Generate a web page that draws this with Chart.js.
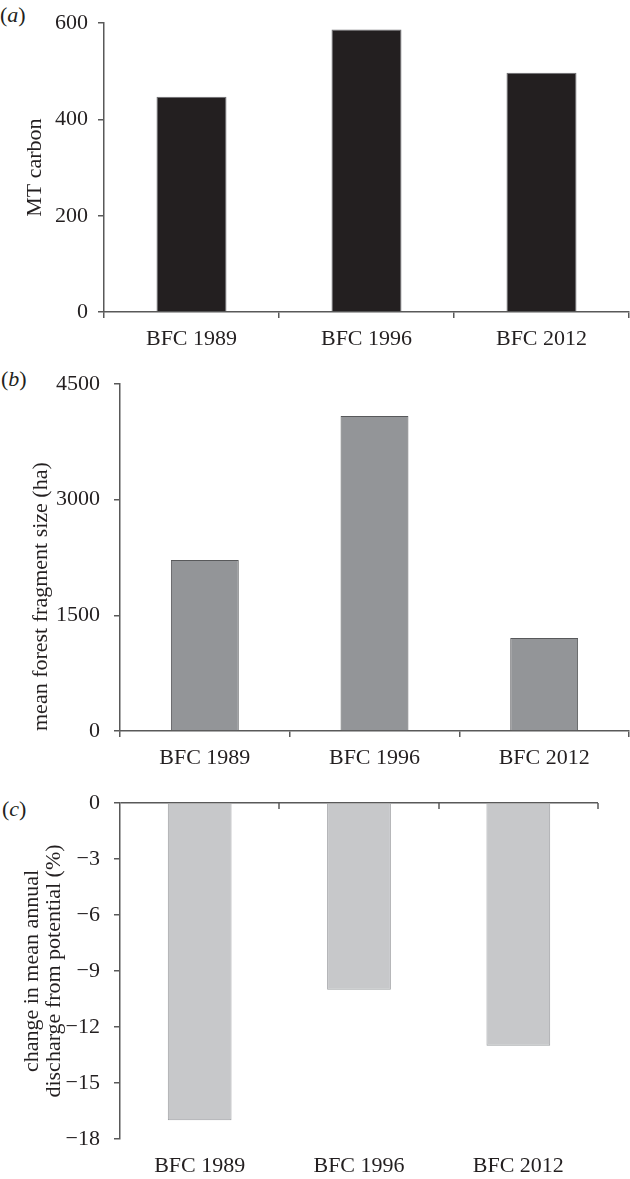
<!DOCTYPE html>
<html>
<head>
<meta charset="utf-8">
<script src="https://cdn.jsdelivr.net/npm/chart.js@4.4.1/dist/chart.umd.min.js"></script>
<style>
    body { margin: 0; background: #fff; width: 630px; height: 1179px; position: relative; font-family: 'Liberation Serif', serif; color: #231f20; }
    canvas { position: absolute; left: 0; }
    .tag { position: absolute; font-size: 22px; line-height: 22px; }
</style>
</head>
<body>
<span class="tag" style="left:0px;top:4px">(<i>a</i>)</span>
<span class="tag" style="left:1px;top:368px">(<i>b</i>)</span>
<span class="tag" style="left:2px;top:798px">(<i>c</i>)</span>
<canvas id="carbon_chartCanvas" width="630" height="352" style="top:0px"></canvas>
<canvas id="fragment_chartCanvas" width="630" height="419" style="top:352px"></canvas>
<canvas id="discharge_chartCanvas" width="630" height="408" style="top:771px"></canvas>
<script>
// categories
var periods = ['BFC 1989', 'BFC 1996', 'BFC 2012'];

// (a) carbon stock, MT carbon
var carbonValues = [447, 587, 497];
// (b) mean forest fragment size, ha
var fragmentValues = [2216, 4085, 1207];
// (c) change in mean annual discharge from potential, %
var dischargeValues = [-17, -10, -13];

var axisColor = '#595959';
var textColor = '#231f20';
var serif = 'Liberation Serif';

/* common options for the three bar panels */
function panelOptions(cfg) {
    return {
        responsive: false,
        animation: false,
        layout: { padding: { top: cfg.top, right: cfg.right, left: 0, bottom: 0 } },
        plugins: { legend: { display: false }, tooltip: { enabled: false } },
        scales: {
            x: {
                offset: true,
                grid: {
                    display: cfg.xTicks,
                    drawOnChartArea: false,
                    drawTicks: cfg.xTicks,
                    tickLength: 6,
                    color: axisColor,
                    lineWidth: 1.5
                },
                border: { display: cfg.xTicks, color: axisColor, width: 1.5 },
                ticks: {
                    color: textColor,
                    font: { family: serif, size: 22 },
                    padding: cfg.xPad,
                    maxRotation: 0,
                    autoSkip: false
                },
                afterFit: function(scale) { scale.height = 40; }
            },
            y: {
                min: cfg.min,
                max: cfg.max,
                grid: {
                    drawOnChartArea: cfg.zeroLine,
                    drawTicks: true,
                    tickLength: 6,
                    color: function(c) {
                        return (cfg.zeroLine && c.tick && c.tick.value === 0) ? axisColor : 'rgba(0,0,0,0)';
                    },
                    tickColor: axisColor,
                    lineWidth: 1.5
                },
                border: { display: true, color: axisColor, width: 1.5 },
                ticks: {
                    stepSize: cfg.step,
                    color: textColor,
                    font: { family: serif, size: 22 },
                    padding: cfg.yPad,
                    callback: function(v) { return String(v).replace('-', '\u2212'); }
                },
                title: {
                    display: true,
                    text: cfg.title,
                    align: cfg.titleAlign,
                    color: textColor,
                    font: { family: serif, size: 22, lineHeight: cfg.titleLine },
                    padding: { top: cfg.titlePad, bottom: 0 }
                },
                afterFit: function(scale) { scale.width = cfg.left; }
            }
        }
    };
}

/* little tick marks hanging down from the zero line in panel (c) */
var zeroLineTicks = {
    id: 'zeroLineTicks',
    afterDraw: function(chart) {
        var xs = chart.scales.x, ys = chart.scales.y;
        var ctx = chart.ctx;
        var y0 = ys.getPixelForValue(0);
        ctx.save();
        ctx.strokeStyle = axisColor;
        ctx.lineWidth = 1.5;
        ctx.beginPath();
        for (var i = 0; i < periods.length; i++) {
            var px = Math.round(xs.getPixelForValue(i + 0.5));
            ctx.moveTo(px, y0);
            ctx.lineTo(px, y0 + 6);
        }
        ctx.stroke();
        ctx.restore();
    }
};

function drawPanel(canvasId, values, fill, border, cfg, plugins) {
    var ctx = document.getElementById(canvasId).getContext('2d');
    return new Chart(ctx, {
        type: 'bar',
        data: {
            labels: periods,
            datasets: [{
                data: values,
                backgroundColor: fill,
                borderColor: border,
                borderWidth: 1,
                barPercentage: 0.4,
                categoryPercentage: 1
            }]
        },
        options: panelOptions(cfg),
        plugins: plugins || []
    });
}

drawPanel('carbon_chartCanvas', carbonValues, '#231f20', '#6d6e71', {
    top: 13, right: 1, left: 104, min: 0, max: 600, step: 200,
    title: 'MT carbon', titleAlign: 'center', titleLine: 1.2, titlePad: 22,
    yPad: 10, xPad: 8, xTicks: true, zeroLine: false
});

drawPanel('fragment_chartCanvas', fragmentValues, '#939598', '#58595b', {
    top: 32, right: 1, left: 120, min: 0, max: 4500, step: 1500,
    title: 'mean forest fragment size (ha)', titleAlign: 'start', titleLine: 1.2, titlePad: 28,
    yPad: 14, xPad: 8, xTicks: true, zeroLine: false
});

drawPanel('discharge_chartCanvas', dischargeValues, '#c7c8ca', '#9d9fa2', {
    top: 32, right: 32, left: 120, min: -18, max: 0, step: 3,
    title: ['change in mean annual', 'discharge from potential (%)'], titleAlign: 'center', titleLine: 1, titlePad: 21,
    yPad: 14, xPad: 14, xTicks: false, zeroLine: true
}, [zeroLineTicks]);
</script>
</body>
</html>
